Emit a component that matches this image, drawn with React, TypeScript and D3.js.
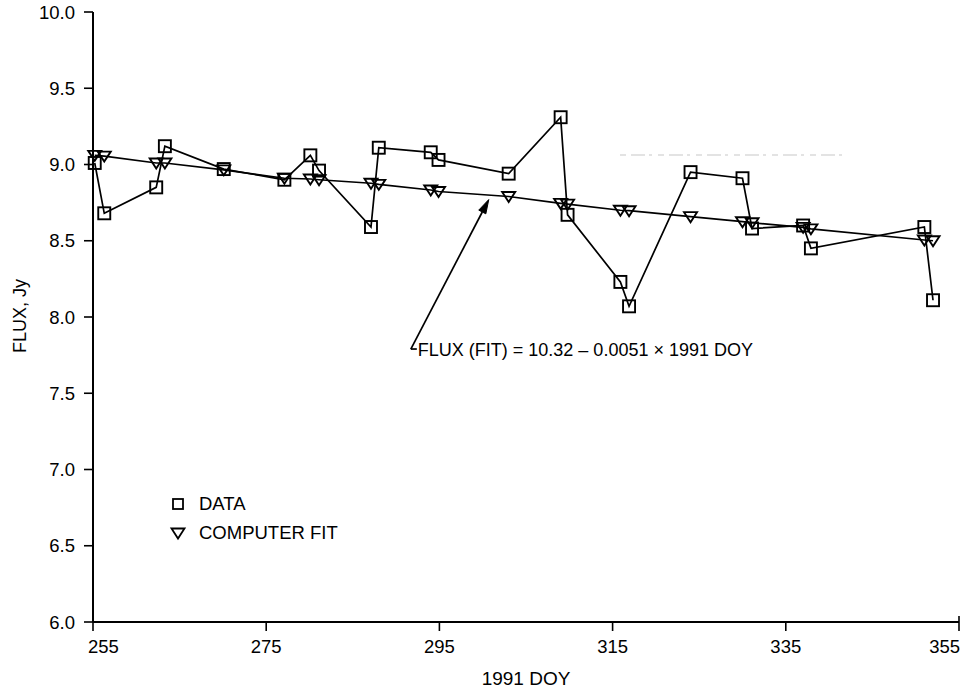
import React from "react";
import * as d3 from "d3";

// ---- data ----
const dataDays = [255.2, 256.3, 262.3, 263.3, 270.1, 277.1, 280.1, 281.1, 287.1, 288.0, 294.0, 294.9, 303.0, 309.0, 309.8, 315.9, 316.9, 324.0, 330.0, 331.1, 337.0, 337.9, 351.0, 352.0];
const dataFlux = [9.01, 8.68, 8.85, 9.12, 8.97, 8.9, 9.06, 8.96, 8.59, 9.11, 9.08, 9.03, 8.94, 9.31, 8.67, 8.23, 8.07, 8.95, 8.91, 8.58, 8.6, 8.45, 8.59, 8.11];
const fitFlux = [9.06, 9.055, 9.01, 9.01, 8.965, 8.91, 8.905, 8.9, 8.877, 8.87, 8.833, 8.823, 8.79, 8.745, 8.74, 8.7, 8.697, 8.658, 8.625, 8.618, 8.588, 8.578, 8.505, 8.5];
const xTicks = [255, 275, 295, 315, 335, 355];
const yTicks = [6.0, 6.5, 7.0, 7.5, 8.0, 8.5, 9.0, 9.5, 10.0];
const legendLabels = ["DATA", "COMPUTER FIT"];
const annotationText = "FLUX (FIT) = 10.32 \u2013 0.0051 \u00d7 1991 DOY";
const arrowTip = [300.7, 8.77];
const arrowTail = [291.7, 7.79];

const W = 966;
const H = 692;
const FONT = "'Liberation Sans', Arial, Helvetica, sans-serif";

export default function App() {
  const x = d3.scaleLinear().domain([255, 355]).range([93, 959]);
  const y = d3.scaleLinear().domain([6, 10]).range([622, 12]);
  const line = d3
    .line<[number, number]>()
    .x((d) => x(d[0]))
    .y((d) => y(d[1]));
  const dataPts: [number, number][] = dataDays.map((d, i) => [d, dataFlux[i]]);
  const fitPts: [number, number][] = dataDays.map((d, i) => [d, fitFlux[i]]);
  const sq = 12;
  const tri = (cx: number, cy: number) =>
    `M${cx - 6.5},${cy - 4.5}L${cx + 6.5},${cy - 4.5}L${cx},${cy + 5.5}Z`;

  const tipX = x(arrowTip[0]);
  const tipY = y(arrowTip[1]);
  const tailX = x(arrowTail[0]);
  const tailY = y(arrowTail[1]);
  const ang = Math.atan2(tipY - tailY, tipX - tailX);
  const ah = 14;
  const aw = 4;
  const bx = tipX - ah * Math.cos(ang);
  const by = tipY - ah * Math.sin(ang);
  const px = -Math.sin(ang) * aw;
  const py = Math.cos(ang) * aw;

  return (
    <svg
      width={W}
      height={H}
      style={{ position: "absolute", left: 0, top: 0, background: "#fff" }}
      fontFamily={FONT}
    >
      <rect width={W} height={H} fill="#fff" />
      {/* scan artifact */}
      <line x1={620} x2={842} y1={155} y2={155} stroke="#c8c8c8" strokeWidth={1.2} strokeDasharray="6 5 14 4 3 6" />
      {/* axes */}
      <line x1={x(255)} x2={x(255)} y1={y(10)} y2={y(6)} stroke="#000" strokeWidth={2} />
      <line x1={x(255)} x2={x(355)} y1={y(6)} y2={y(6)} stroke="#000" strokeWidth={2} />
      <line x1={x(355)} x2={x(355)} y1={y(6) - 6} y2={y(6)} stroke="#000" strokeWidth={1.6} />
      {yTicks.map((t) => (
        <g key={"y" + t}>
          <line x1={x(255) - 9} x2={x(255)} y1={y(t)} y2={y(t)} stroke="#000" strokeWidth={1.6} />
          <text x={75} y={y(t)} dy="0.36em" textAnchor="end" fontSize={18.5} fill="#000">
            {t.toFixed(1)}
          </text>
        </g>
      ))}
      {xTicks.map((t, i) => {
        const first = i === 0;
        const last = i === xTicks.length - 1;
        return (
          <g key={"x" + t}>
            <line x1={x(t)} x2={x(t)} y1={y(6)} y2={y(6) + 9} stroke="#000" strokeWidth={1.6} />
            <text
              x={first ? x(t) - 5 : last ? x(t) + 1 : x(t)}
              y={653}
              textAnchor={first ? "start" : last ? "end" : "middle"}
              fontSize={18.5}
              fill="#000"
            >
              {t}
            </text>
          </g>
        );
      })}
      <text x={526} y={685} textAnchor="middle" fontSize={19} fill="#000">
        1991 DOY
      </text>
      <text
        transform={`translate(26,316) rotate(-90)`}
        textAnchor="middle"
        fontSize={18}
        fill="#000"
      >
        FLUX, Jy
      </text>

      {/* series lines */}
      <path d={line(fitPts) || ""} fill="none" stroke="#000" strokeWidth={1.7} />
      <path d={line(dataPts) || ""} fill="none" stroke="#000" strokeWidth={1.7} />
      {fitPts.map((p, i) => (
        <path key={"t" + i} d={tri(x(p[0]), y(p[1]))} fill="none" stroke="#000" strokeWidth={1.9} />
      ))}
      {dataPts.map((p, i) => (
        <rect
          key={"s" + i}
          x={x(p[0]) - sq / 2}
          y={y(p[1]) - sq / 2}
          width={sq}
          height={sq}
          fill="none"
          stroke="#000"
          strokeWidth={1.9}
        />
      ))}

      {/* annotation */}
      <line x1={tailX} y1={tailY} x2={bx} y2={by} stroke="#000" strokeWidth={1.7} />
      <line x1={tailX} y1={tailY} x2={tailX + 6} y2={tailY} stroke="#000" strokeWidth={1.7} />
      <path
        d={`M${tipX},${tipY}L${bx + px},${by + py}L${bx - px},${by - py}Z`}
        fill="#000"
        stroke="#000"
        strokeWidth={1}
      />
      <text x={tailX + 7} y={tailY} dy="0.36em" fontSize={18} fill="#000">
        {annotationText}
      </text>

      {/* legend */}
      <rect x={173} y={499} width={10} height={10} fill="none" stroke="#000" strokeWidth={1.8} />
      <text x={199} y={510} fontSize={18.5} fill="#000">
        {legendLabels[0]}
      </text>
      <path d={tri(178, 533)} fill="none" stroke="#000" strokeWidth={1.8} />
      <text x={199} y={539} fontSize={18.5} fill="#000">
        {legendLabels[1]}
      </text>
    </svg>
  );
}
